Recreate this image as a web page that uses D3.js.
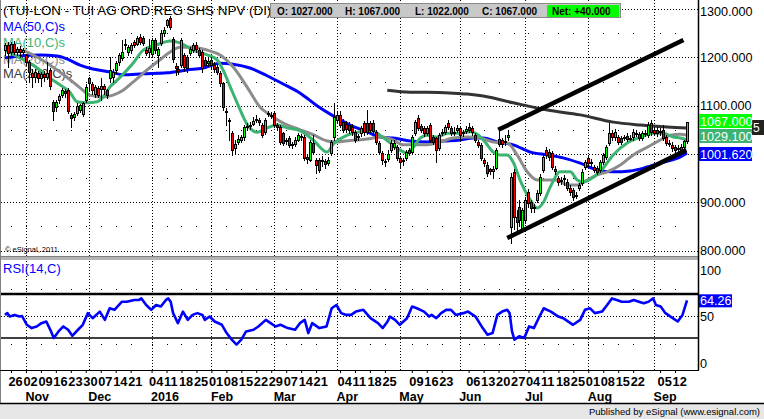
<!DOCTYPE html>
<html><head><meta charset="utf-8">
<script src="https://cdn.jsdelivr.net/npm/d3@7"></script>
<style>body{margin:0;background:#fff;}svg{display:block;font-family:"Liberation Sans",Arial,sans-serif;}</style>
</head><body><svg id="c" width="764" height="419"></svg>
<script>
// ---------- DATA ----------
const firstDay = "2015-10-22", lastDay = "2016-09-16";
const holidays = ["2015-12-25","2015-12-28","2016-01-01","2016-03-25","2016-03-28","2016-05-02","2016-05-30","2016-08-29"];
const monthLabels = ["Nov","Dec","2016","Feb","Mar","Apr","May","Jun","Jul","Aug","Sep"];
const priceTicks = [800,900,1000,1100,1200,1300];
const priceHalf = [850,950,1050,1150,1250];
const rsiTicks = [0,50,100];

const openP = [1215,1225,1212,1228,1212,1218,1212,1205,1190,1168,
1160,1168,1158,1165,1160,1174,1108,1098,1112,1122,
1130,1132,1081,1076,1085,1091,1082,1112,1157,1145,
1125,1137,1135,1140,1132,1157,1160,1174,1190,1198,
1225,1212,1215,1232,1228,1242,1240,1215,1212,1208,
1236,1205,1230,1250,1267,1281,1238,1182,1176,1184,
1205,1200,1209,1215,1226,1215,1211,1195,1188,1195,
1185,1180,1168,1147,1090,1070,1043,1012,1025,1030,
1035,1055,1058,1062,1070,1070,1060,1046,1083,1080,
1085,1060,1056,1043,1029,1033,1020,1021,1030,1038,
1035,994,988,1023,988,988,985,985,982,1002,
1035,1070,1081,1066,1062,1060,1056,1046,1037,1043,
1064,1064,1064,1064,1046,1023,1002,985,990,1008,
1015,1014,992,988,992,1008,1004,1043,1075,1058,
1054,1043,1060,1035,1033,1012,1043,1046,1064,1054,
1045,1050,1054,1046,1048,1056,1054,1039,1025,1019,
988,977,968,965,971,1031,1028,1024,1035,849,
963,870,890,847,863,921,900,888,905,919,
967,1008,1004,1002,968,950,946,948,942,930,
925,914,930,940,973,992,982,973,971,967,
983,994,1023,1043,1035,1035,1033,1033,1037,1033,
1035,1043,1041,1033,1043,1039,1064,1050,1050,1045,
1050,1035,1023,1019,1014,1011,1014,1014,1027];
const highP = [1230,1232,1232,1234,1222,1224,1220,1208,1195,1175,
1175,1172,1170,1172,1190,1178,1112,1112,1125,1136,
1135,1136,1085,1086,1105,1104,1108,1145,1160,1150,
1142,1140,1157,1145,1135,1201,1175,1192,1210,1236,
1238,1226,1230,1236,1245,1248,1245,1222,1238,1240,
1240,1222,1256,1262,1280,1285,1242,1188,1182,1240,
1210,1205,1222,1230,1232,1220,1215,1200,1198,1200,
1190,1185,1172,1150,1095,1075,1048,1030,1040,1040,
1060,1064,1066,1076,1080,1075,1064,1074,1090,1086,
1090,1065,1060,1046,1033,1038,1025,1035,1044,1042,
1040,998,1030,1040,992,992,995,990,994,1030,
1105,1090,1088,1072,1068,1066,1062,1050,1042,1058,
1068,1091,1068,1070,1050,1027,1006,990,1008,1028,
1028,1018,995,992,1008,1012,1040,1070,1080,1062,
1058,1058,1064,1040,1036,1044,1052,1060,1070,1058,
1056,1060,1058,1050,1058,1064,1058,1044,1030,1023,
992,983,972,975,1012,1050,1034,1040,1050,960,
968,885,905,888,910,928,905,896,925,958,
1000,1014,1010,1006,976,955,952,956,948,935,
930,922,940,968,988,998,990,978,975,988,
1003,1018,1064,1050,1052,1040,1038,1040,1044,1040,
1052,1050,1046,1048,1050,1066,1070,1056,1055,1054,
1060,1040,1030,1024,1018,1018,1020,1030,1067];
const lowP = [1205,1180,1208,1208,1205,1200,1205,1185,1150,1138,
1150,1150,1140,1152,1155,1135,1070,1090,1105,1118,
1118,1085,1056,1070,1080,1086,1078,1108,1130,1125,
1118,1118,1112,1125,1115,1150,1150,1168,1185,1195,
1218,1205,1210,1222,1225,1228,1225,1205,1200,1200,
1210,1180,1226,1245,1262,1258,1190,1163,1165,1180,
1172,1170,1205,1212,1212,1200,1170,1178,1182,1175,
1170,1165,1140,1092,1060,1030,998,1000,1020,1025,
1030,1050,1052,1060,1066,1060,1035,1042,1078,1074,
1056,1050,1020,1018,1020,1015,1012,1016,1026,1030,
988,981,985,1000,961,962,975,972,978,998,
1030,1065,1055,1045,1046,1044,1040,1024,1030,1038,
1040,1042,1046,1044,1020,1000,980,975,985,1004,
1010,988,970,978,988,998,1000,1040,1050,1045,
1038,1040,1025,1020,983,1008,1040,1042,1052,1040,
1040,1046,1029,1038,1044,1045,1040,1025,1014,988,
976,955,958,950,968,1016,1014,1018,1028,816,
845,838,850,840,858,890,880,880,900,915,
962,992,988,968,958,936,938,935,925,915,
905,908,925,936,968,976,976,962,958,962,
979,990,1018,1030,1030,1020,1020,1028,1026,1028,
1030,1038,1028,1028,1038,1035,1040,1040,1038,1040,
1030,1018,1016,1006,1003,1005,1000,1010,1022];
const closeP = [1225,1210,1228,1212,1218,1212,1216,1190,1170,1160,
1170,1158,1165,1160,1168,1140,1088,1108,1120,1132,
1126,1088,1075,1082,1100,1101,1105,1139,1147,1133,
1138,1122,1140,1135,1122,1174,1170,1188,1205,1212,
1228,1222,1225,1226,1240,1232,1230,1210,1220,1236,
1215,1218,1250,1257,1277,1262,1196,1178,1172,1236,
1180,1178,1218,1226,1218,1205,1178,1185,1192,1184,
1176,1170,1147,1097,1087,1068,1008,1020,1032,1035,
1056,1058,1060,1068,1072,1066,1039,1070,1085,1078,
1060,1056,1025,1023,1026,1019,1018,1030,1039,1035,
992,990,1025,1004,977,967,988,980,988,1025,
1077,1081,1060,1050,1052,1050,1046,1029,1035,1054,
1045,1046,1050,1048,1025,1004,988,983,1000,1023,
1023,992,983,985,1004,1002,1035,1066,1054,1050,
1043,1054,1029,1025,1008,1039,1046,1056,1056,1043,
1046,1054,1039,1044,1052,1050,1046,1029,1019,992,
981,961,965,968,1008,1021,1020,1027,1040,952,
870,860,863,884,905,898,888,890,919,952,
994,998,994,973,965,942,944,950,930,922,
911,916,936,963,983,981,984,967,963,983,
998,1014,1043,1035,1046,1025,1025,1035,1031,1034,
1046,1044,1033,1043,1044,1060,1046,1044,1043,1047,
1033,1023,1022,1012,1008,1012,1004,1027,1067];

// moving averages: [bar index, value]
const ma10 = [[0,1215],[5,1199],[9.4,1184],[15.1,1157],[19.4,1139],[21.7,1128],[24.1,1108],[27.4,1106],[30.8,1108],[32.8,1118],[35.1,1139],[37.5,1153],[40.8,1174],[42.8,1188],[46.2,1215],[50.8,1226],[55.2,1234],[58.5,1230],[62.9,1215],[67.6,1205],[70.9,1195],[72.9,1174],[75.3,1139],[77.6,1106],[80.9,1062],[84.3,1045],[87.6,1054],[91,1060],[94.3,1054],[98.7,1048],[103,1029],[107.7,1004],[109.7,1020],[114.4,1039],[118.7,1046],[122.1,1050],[125.4,1039],[128.8,1023],[132.1,1008],[134.4,1002],[136.5,1014],[138.8,1033],[141.1,1039],[144.5,1035],[147.8,1043],[152.2,1043],[155.5,1046],[157.9,1041],[160.5,1025],[163.2,1004],[165.6,998],[167.9,998],[169.9,983],[172.2,946],[175.6,905],[177.9,888],[179.9,899],[182.3,932],[185.6,963],[189,963],[191.3,946],[193.3,942],[196.7,952],[200,971],[203.3,998],[208,1023],[212.4,1035],[216.7,1043],[220.1,1043],[223.4,1035],[225.8,1033],[228,1029]];
const ma20 = [[0,1215],[5,1215],[9.4,1205],[15.1,1184],[20.7,1159],[25.1,1137],[28.4,1122],[32.8,1118],[36.1,1122],[39.5,1132],[42.8,1149],[47.5,1174],[51.8,1195],[55.2,1211],[58.5,1221],[62.9,1221],[67.6,1215],[71.9,1205],[76.3,1180],[80.9,1139],[85.3,1097],[88.6,1081],[93,1064],[98.7,1050],[103,1040],[107.7,1027],[111,1025],[115.4,1028],[121.1,1031],[125.4,1035],[129.8,1029],[133.1,1019],[136.5,1019],[141.1,1019],[145.5,1025],[149.8,1033],[154.5,1035],[158.9,1033],[163.2,1025],[167.9,1023],[171.2,998],[174.6,963],[177.9,946],[181.3,946],[184.6,946],[188,936],[191.3,936],[194.6,946],[198,957],[201.3,963],[205.7,977],[210,998],[214.7,1014],[219.1,1029],[222.4,1039],[225.8,1041],[228,1039]];
const ma50 = [[0,1199],[5,1203],[11.7,1205],[17.4,1203],[20.7,1197],[25.1,1184],[29.4,1176],[35.1,1170],[39.5,1164],[46.2,1166],[54.2,1168],[60.9,1174],[66.2,1178],[71.9,1188],[76.3,1186],[81.9,1178],[87.6,1162],[93,1145],[98.7,1126],[104.3,1100],[109.7,1079],[115.4,1060],[121.1,1046],[125.4,1035],[129.8,1033],[135.5,1027],[141.1,1025],[146.5,1027],[152.2,1029],[156.5,1033],[159.9,1033],[164.5,1025],[169.9,1019],[175.6,1004],[181.3,998],[186.6,992],[192.3,981],[198,967],[203.3,963],[209,965],[214.7,973],[220.1,983],[225.8,994],[228,1002]];
const ma200 = [[127.8,1132],[135.5,1128],[141.1,1128],[149.8,1126],[154.5,1124],[159.9,1120],[169.9,1106],[181.3,1091],[192.3,1081],[203.3,1066],[212.4,1060],[221.4,1056],[228,1054]];
const upperTrend = [[164.9,1050],[226.8,1236]];
const lowerTrend = [[167.9,826],[227.8,1008]];
const rsi = [[0,51],[0.8,52.6],[1.6,49.5],[3.2,51],[4.8,49.5],[5.7,50],[7.3,42],[8.9,39],[10.6,40.5],[12.2,43.5],[13.8,45],[15.4,36],[16.3,30],[17.9,36],[19.5,40.5],[21.1,37.5],[22.5,32],[24.4,37.5],[26,42],[27.7,52.6],[29.3,48],[31.7,54],[33.4,46.5],[35,57],[36.6,55.6],[39.1,63],[40.7,63],[43.2,64.6],[44.8,64.6],[45.6,66],[47.2,60],[48.9,55.6],[50.5,60],[52.1,58.6],[53.8,64.6],[54.6,66],[55.4,63],[56.2,52.6],[57.8,43.5],[59.5,54],[61.1,46.5],[62.7,51],[64.3,52.6],[66,51],[66.8,46.5],[68.4,49.5],[70.1,45],[72.5,42],[74.1,34.5],[75.8,28.5],[77.4,24],[79,28.5],[80.6,36],[83.1,37.5],[84.7,40.5],[87.2,46.5],[88.8,43.5],[90.4,40.5],[92.1,42],[94.5,39],[97,37.5],[98.6,43.5],[100.2,46.5],[101.4,34.5],[102.7,43.5],[105.1,39],[107.5,40.5],[109.2,57],[110.8,60],[112.4,52.6],[114.1,51],[115.7,51],[117.3,54],[119.8,55.6],[122.2,48],[124.7,43.5],[126.3,39],[127.9,45],[128.7,49.5],[130.4,46.5],[132,42],[134.4,48],[136.1,58.6],[137.7,57],[140.1,54],[141.8,49.5],[142.6,51],[144.2,48],[145.8,52.6],[147.5,55.6],[149.1,55.6],[150.7,51],[153.2,52.6],[154.8,54],[157.3,49.5],[159.7,39],[161.3,33],[163,34.5],[164.6,51],[166.2,54],[167.9,55.6],[168.7,52.6],[169.5,36],[170.3,28.5],[171.9,31.5],[173.6,30],[175.2,40.5],[176.8,39],[178.4,48],[180.1,57],[182.5,54],[185,49.5],[186.6,48],[189.9,42],[192.3,46.5],[193.9,55.6],[195.6,57],[197.2,52.6],[199.6,54],[201.3,60],[202.9,66],[204.5,64.6],[206.2,63],[208.6,63],[210.2,64.6],[211.9,63],[213.5,61.6],[215.1,63],[216.7,66],[217.6,60],[219.2,58.6],[220.8,52.6],[222.5,49.5],[224.9,45],[226.5,51],[228,64.26]];

const lastVals = {close:1067.000, ma10:1029.100, ma50:1001.620, rsi:64.26};

// ---------- SETUP ----------
const svg = d3.select("#c");
const N = closeP.length;
const parse = d3.utcParse("%Y-%m-%d"), fmt = d3.utcFormat("%Y-%m-%d");
const hol = new Set(holidays);
const days = [];
for (let d = parse(firstDay); d <= parse(lastDay); d = d3.utcDay.offset(d, 1)) {
  const wd = d.getUTCDay();
  if (wd === 0 || wd === 6 || hol.has(fmt(d))) continue;
  days.push(d);
}
const mondays = [], monthStarts = [];
days.forEach((d, i) => {
  if (d.getUTCDay() === 1) mondays.push(i);
  if (i > 0 && d.getUTCMonth() !== days[i-1].getUTCMonth()) monthStarts.push(i);
});

const AX = 698;
const x = d3.scaleLinear().domain([0, N-1]).range([5, 687]);
const yP = d3.scaleLinear().domain([1000, 1300]).range([154, 9.1]);
const yR = d3.scaleLinear().domain([30, 70]).range([338, 294]);

svg.append("rect").attr("width",764).attr("height",419).attr("fill","#fff");

const defs = svg.append("defs");
defs.append("clipPath").attr("id","cp").append("rect").attr("x",1).attr("y",0).attr("width",AX-1).attr("height",256);
defs.append("clipPath").attr("id","cr").append("rect").attr("x",1).attr("y",260).attr("width",AX-1).attr("height",110);

const px = v => Math.round(v) + 0.5;

// ---------- GRID ----------
const grid = svg.append("g").attr("shape-rendering","crispEdges");
grid.selectAll(".hp").data(priceTicks).join("line")
  .attr("x1",1).attr("x2",AX).attr("y1",d=>px(yP(d))).attr("y2",d=>px(yP(d)))
  .attr("stroke","#000").attr("stroke-dasharray","1,2");
priceHalf.forEach(p => {
  grid.selectAll(null).data(mondays).join("rect")
    .attr("x",i=>Math.round(x(i))).attr("y",Math.round(yP(p))).attr("width",1).attr("height",1).attr("fill","#000");
});
[25,75].forEach(v => {
  grid.selectAll(null).data(mondays).join("rect")
    .attr("x",i=>Math.round(x(i))).attr("y",Math.round(yR(v))).attr("width",1).attr("height",1).attr("fill","#000");
});
grid.selectAll(".vm").data(monthStarts).join("line")
  .attr("x1",i=>px(x(i))).attr("x2",i=>px(x(i))).attr("y1",0).attr("y2",256)
  .attr("stroke","#000").attr("stroke-dasharray","1,2");
grid.selectAll(".vr").data(monthStarts).join("line")
  .attr("x1",i=>px(x(i))).attr("x2",i=>px(x(i))).attr("y1",261).attr("y2",370)
  .attr("stroke","#000").attr("stroke-dasharray","1,2");
grid.append("line").attr("x1",1).attr("x2",AX).attr("y1",px(yR(50))).attr("y2",px(yR(50)))
  .attr("stroke","#000").attr("stroke-dasharray","1,2");

// ---------- PRICE PANEL TEXT ----------
svg.append("text").attr("x",3).attr("y",15).attr("font-size",13.4).attr("fill","#000")
  .text("(TUI-LON - TUI AG ORD REG SHS NPV (DI),");
const maLab = [["MA(50,C)s","#0000ff",31],["MA(10,C)s","#3cb371",47],["MA(20,C)s","#8c8c8c",64],["MA(200,C)s","#404040",78]];
svg.selectAll(".mal").data(maLab).join("text").attr("x",3).attr("y",d=>d[2])
  .attr("font-size",13).attr("fill",d=>d[1]).text(d=>d[0]);
svg.append("text").attr("x",5).attr("y",252).attr("font-size",7.5).attr("fill","#000").text("© eSignal, 2011");

// ---------- LINES ----------
const pg = svg.append("g").attr("clip-path","url(#cp)");
const lineP = d3.line().x(d=>x(d[0])).y(d=>yP(d[1])).curve(d3.curveMonotoneX);
[[ma200,"#333333"],[ma50,"#0000ff"],[ma20,"#8c8c8c"],[ma10,"#3cb371"]].forEach(([d,c]) => {
  pg.append("path").datum(d).attr("d",lineP).attr("fill","none").attr("stroke",c).attr("stroke-width",3);
});

// candles
const cg = pg.append("g").attr("shape-rendering","crispEdges");
const idx = d3.range(N);
cg.selectAll(".w").data(idx).join("line")
  .attr("x1",i=>px(x(i))).attr("x2",i=>px(x(i)))
  .attr("y1",i=>Math.round(yP(highP[i]))).attr("y2",i=>Math.round(yP(lowP[i]))+1)
  .attr("stroke","#000");
cg.selectAll(".b").data(idx).join("rect")
  .attr("x",i=>px(x(i))-1)
  .attr("y",i=>Math.round(yP(Math.max(openP[i],closeP[i])))+0.5)
  .attr("width",2)
  .attr("height",i=>Math.max(1,Math.round(yP(Math.min(openP[i],closeP[i])))-Math.round(yP(Math.max(openP[i],closeP[i])))))
  .attr("fill",i=>closeP[i]>=openP[i]?"#00ff00":"#ff0000")
  .attr("stroke","#000").attr("stroke-width",1);

// trend lines
const lineT = d3.line().x(d=>x(d[0])).y(d=>yP(d[1]));
[upperTrend, lowerTrend].forEach(t => {
  pg.append("path").datum(t).attr("d",lineT).attr("stroke","#000").attr("stroke-width",4.5).attr("fill","none");
});

// ---------- RSI ----------
const rg = svg.append("g").attr("clip-path","url(#cr)");
rg.append("line").attr("x1",1).attr("x2",AX).attr("y1",yR(70)).attr("y2",yR(70)).attr("stroke","#000").attr("stroke-width",2.5);
rg.append("line").attr("x1",1).attr("x2",AX).attr("y1",yR(30)).attr("y2",yR(30)).attr("stroke","#000").attr("stroke-width",1.5);
rg.append("path").datum(rsi).attr("d",d3.line().x(d=>x(d[0])).y(d=>yR(d[1])))
  .attr("fill","none").attr("stroke","#0000ff").attr("stroke-width",2.6).attr("stroke-linejoin","round");
svg.append("text").attr("x",3).attr("y",273).attr("font-size",13).attr("fill","#0000ff").text("RSI(14,C)");

// ---------- FRAME ----------
svg.append("rect").attr("x",0).attr("y",256).attr("width",AX).attr("height",4).attr("fill","#b4b4b4");
svg.append("line").attr("x1",0).attr("x2",AX).attr("y1",256.5).attr("y2",256.5).attr("stroke","#808080");
svg.append("line").attr("x1",0.5).attr("x2",0.5).attr("y1",0).attr("y2",404).attr("stroke","#808080");
svg.append("line").attr("x1",AX+0.5).attr("x2",AX+0.5).attr("y1",0).attr("y2",370).attr("stroke","#000").attr("stroke-width",1.5);
svg.append("line").attr("x1",0).attr("x2",AX+1).attr("y1",370.5).attr("y2",370.5).attr("stroke","#000");

// ---------- AXES ----------
const ay = svg.append("g").attr("transform",`translate(${AX},0)`)
  .call(d3.axisRight(yP).tickValues(priceTicks).tickFormat(d=>d3.format(".3f")(d)).tickSize(0).tickPadding(2));
ay.select(".domain").remove();
ay.selectAll("text").attr("font-size",12.6).attr("font-family","Liberation Sans, Arial").attr("fill","#000")
  .attr("y",d=>d===1300?2:0);

const ar = svg.append("g").attr("transform",`translate(${AX},0)`)
  .call(d3.axisRight(yR).tickValues(rsiTicks).tickSize(0).tickPadding(2));
ar.select(".domain").remove();
ar.selectAll("text").attr("font-size",12.6).attr("font-family","Liberation Sans, Arial").attr("fill","#000")
  .attr("y",d=>d===100?9:(d===0?-8:0));

const ad = svg.append("g").attr("transform","translate(0,370)")
  .call(d3.axisBottom(x).tickValues(mondays).tickFormat(i=>d3.utcFormat("%d")(days[i])).tickSize(3));
ad.select(".domain").remove();
ad.selectAll("line").attr("stroke","#000");
ad.selectAll("text").attr("text-anchor","start").attr("dx",-3).attr("y",16).attr("dy",0)
  .attr("font-size",12.8).attr("font-weight","bold").attr("font-family","Liberation Sans, Arial").attr("fill","#000");

const am = svg.append("g").attr("transform","translate(0,370)")
  .call(d3.axisBottom(x).tickValues(monthStarts).tickFormat((i,k)=>monthLabels[k]).tickSize(0));
am.select(".domain").remove();
am.selectAll("text").attr("text-anchor","start").attr("dx",-1).attr("y",31).attr("dy",0)
  .attr("font-size",12.5).attr("font-weight","bold").attr("font-family","Liberation Sans, Arial").attr("fill","#000");

// ---------- VALUE LABELS ----------
svg.append("rect").attr("x",752).attr("y",120).attr("width",12).attr("height",15).attr("fill","#222");
svg.append("text").attr("x",753).attr("y",132).attr("font-size",12).attr("fill","#fff").text("5");
const vl = [[lastVals.close.toFixed(3),"#00ff00",121],[lastVals.ma10.toFixed(3),"#3cb371",136],[lastVals.ma50.toFixed(3),"#0000ff",154]];
vl.forEach(([t,c,yc]) => {
  svg.append("rect").attr("x",AX+1).attr("y",yc-7).attr("width",53).attr("height",14).attr("fill",c);
  svg.append("text").attr("x",AX+2).attr("y",yc+4.5).attr("font-size",12.6).attr("fill","#fff").text(t);
});
svg.append("rect").attr("x",AX+1).attr("y",yR(lastVals.rsi)-6).attr("width",33).attr("height",13).attr("fill","#0000ff");
svg.append("text").attr("x",AX+2).attr("y",yR(lastVals.rsi)+4.5).attr("font-size",12.6).attr("fill","#fff").text(lastVals.rsi.toFixed(2));

// ---------- OHLC BOX ----------
const L = N-1;
const ob = svg.append("g");
ob.append("rect").attr("x",270.5).attr("y",3.5).attr("width",350).attr("height",14).attr("fill","#c8c8c8").attr("stroke","#8a8a8a");
ob.append("rect").attr("x",547).attr("y",5).attr("width",72).attr("height",12).attr("fill","#00ff00");
const f3 = d3.format(".3f");
[[277,"O: "+f3(openP[L])],[345,"H: "+f3(highP[L])],[415,"L: "+f3(lowP[L])],[482,"C: "+f3(closeP[L])],[552,"Net: +"+f3(closeP[L]-closeP[L-1])]]
  .forEach(([xx,t]) => ob.append("text").attr("x",xx).attr("y",14.5).attr("font-size",10).attr("font-weight","bold").attr("fill","#000").text(t));

// ---------- FOOTER ----------
svg.append("rect").attr("x",0).attr("y",404).attr("width",764).attr("height",15).attr("fill","#e6e6e6");
svg.append("line").attr("x1",0).attr("x2",764).attr("y1",403.5).attr("y2",403.5).attr("stroke","#000").attr("stroke-width",1.5);
svg.append("text").attr("x",760).attr("y",415).attr("text-anchor","end").attr("font-size",9.5).attr("fill","#000")
  .text("Published by eSignal (www.esignal.com)");
</script>
</body></html>
